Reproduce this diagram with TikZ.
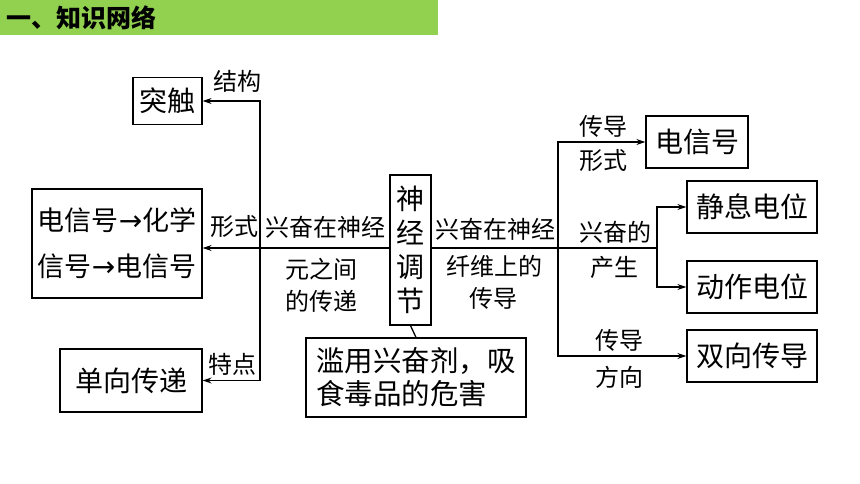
\documentclass[tikz,border=0pt]{standalone}
\usepackage{fontspec}
\newfontfamily\cjk{Noto Sans CJK SC}
\newfontfamily\djv{DejaVu Sans}
\usetikzlibrary{arrows.meta}
\definecolor{hdrgreen}{HTML}{92D050}
\newcommand{\sigarrow}{{\djv\fontsize{28}{28}\selectfont →}}
\begin{document}
\begin{tikzpicture}[x=1pt,y=-1pt,
  box/.style={draw,line width=1.3pt,inner sep=0pt,align=center,font=\cjk\fontsize{28}{34}\selectfont},
  lab/.style={inner sep=0pt,align=center,font=\cjk\fontsize{24}{32}\selectfont},
  arr/.style={line width=1.3pt,-{Stealth[length=9pt,width=6pt]}},
  ln/.style={line width=1.3pt}]
\useasboundingbox (0,0) rectangle (860,484);
\fill[hdrgreen] (0,0) rectangle (438,35);
\node[anchor=west,inner sep=0pt,font=\cjk\bfseries\fontsize{25}{25}\selectfont] (hdr) at (6,18) {一、知识网络};

% boxes
\node[box,minimum width=69pt,minimum height=47pt] (tc) at (167.5,101) {突触};
\node[box,minimum width=170pt,minimum height=109pt,font=\cjk\fontsize{27}{46}\selectfont] (dx) at (117,243.5)
  {电信号\sigarrow 化学\\信号\sigarrow 电信号};
\node[box,minimum width=142pt,minimum height=63pt] (dan) at (131,380.5) {单向传递};
\node[box,minimum width=41pt,minimum height=150pt] (nj) at (410.5,250) {神\\经\\调\\节};
\node[box,minimum width=220pt,minimum height=79pt,align=left,font=\cjk\fontsize{28.5}{33}\selectfont] (ly) at (416,377.5) {滥用兴奋剂，吸\\食毒品的危害};
\node[box,minimum width=102pt,minimum height=52pt] (dxr) at (697,142) {电信号};
\node[box,minimum width=130pt,minimum height=52pt] (jx) at (752,207) {静息电位};
\node[box,minimum width=130pt,minimum height=52pt] (dz) at (752,287) {动作电位};
\node[box,minimum width=130pt,minimum height=52pt] (sx) at (752,356) {双向传导};

% connectors left
\coordinate (jL) at (260,248);
\draw[arr] (nj.west |- jL) -- (dx.east |- jL);
\draw[arr] (jL) |- (tc.east);
\draw[arr] (jL) |- (dan.east);
\draw[ln] (nj.south) -- (ly.north);

% connectors right
\coordinate (jR) at (558,248);
\coordinate (jR2) at (657,248);
\draw[ln] (nj.east |- jR) -- (jR2);
\draw[arr] (jR) |- (dxr.west);
\draw[arr] (jR) |- (sx.west);
\draw[arr] (jR2) |- (jx.west);
\draw[arr] (jR2) |- (dz.west);

% labels
\node[lab] (l1) at (237,81) {结构};
\node[lab] (l2) at (234,227) {形式};
\node[lab] (l3) at (325,227) {兴奋在神经};
\node[lab] (l4) at (321,269) {元之间};
\node[lab] (l5) at (321,301) {的传递};
\node[lab] (l6) at (232,364) {特点};
\node[lab] (r1) at (495,229) {兴奋在神经};
\node[lab] (r2) at (494,266) {纤维上的};
\node[lab] (r3) at (493,298) {传导};
\node[lab] (r4) at (603,126) {传导};
\node[lab] (r5) at (603,161) {形式};
\node[lab] (r6) at (615,232) {兴奋的};
\node[lab] (r7) at (614,267) {产生};
\node[lab] (r8) at (619,340) {传导};
\node[lab] (r9) at (619,377) {方向};
\end{tikzpicture}
\end{document}
